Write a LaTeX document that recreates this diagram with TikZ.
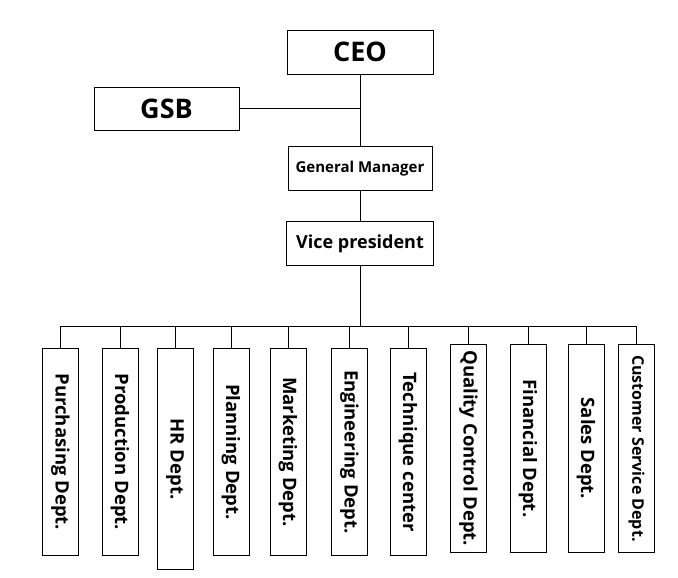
\documentclass[tikz,border=0pt]{standalone}
\usepackage{fontspec}
\setmainfont{Open Sans}
\usetikzlibrary{positioning}

\tikzset{
    topbox/.style={draw, line width=0.9pt, inner sep=0pt, font=\bfseries},
    deptbox/.style={draw, line width=0.9pt, inner sep=0pt, rotate=-90,
        minimum height=36pt, anchor=west},
    link/.style={line width=0.9pt}
}

\begin{document}
\begin{tikzpicture}[x=1pt, y=1pt]
    \useasboundingbox (0,0) rectangle (678,-578);
    \node[topbox, minimum width=146pt, minimum height=44pt,
        font=\bfseries\fontsize{27}{27}\selectfont] (ceo) at (360,-52) {CEO};
    \node[topbox, minimum width=145pt, minimum height=43pt,
        font=\bfseries\fontsize{27}{27}\selectfont] (gsb) at (166.5,-108.5) {GSB};
    \node[topbox, minimum width=144pt, minimum height=44pt, below=72pt of ceo,
        font=\bfseries\fontsize{15}{15}\selectfont] (gm) {General Manager};
    \node[topbox, minimum width=147pt, minimum height=44pt, below=30pt of gm,
        font=\bfseries\fontsize{18}{18}\selectfont] (vp) {Vice president};
    \draw[link] (ceo.south) -- (gm.north);
    \draw[link] (gsb.east) -- (gsb.east -| ceo.south);
    \draw[link] (gm.south) -- (vp.north);

    \foreach \i/\cx/\ty/\len/\fs/\txt in {1/60.5/348/207/18.5/Purchasing Dept.,
            2/120/348/207/18.5/Production Dept., 3/175/348/221/18.5/HR Dept.,
            4/231/348/207/18.5/Planning Dept., 5/288/348/207/18.5/Marketing Dept.,
            6/349.5/348/207/18.5/Engineering Dept., 7/408/348/207/18.5/Technique center,
            8/468.5/344/208/18.5/Quality Control Dept., 9/528/344/208/18.5/Financial Dept.,
            10/586/344/208/18.5/Sales Dept., 11/636.5/344/208/16/Customer Service Dept.}
        \node[deptbox, minimum width=\len pt,
            font=\bfseries\fontsize{\fs}{\fs}\selectfont] (d\i) at (\cx,-\ty) {\txt};

    \coordinate (bus) at (360,-326);
    \draw[link] (vp.south) -- (bus);
    \draw[link] (d1.west |- bus) -- (d11.west |- bus);
    \foreach \i in {1,...,11}
        \draw[link] (d\i.west) -- (d\i.west |- bus);
\end{tikzpicture}
\end{document}
